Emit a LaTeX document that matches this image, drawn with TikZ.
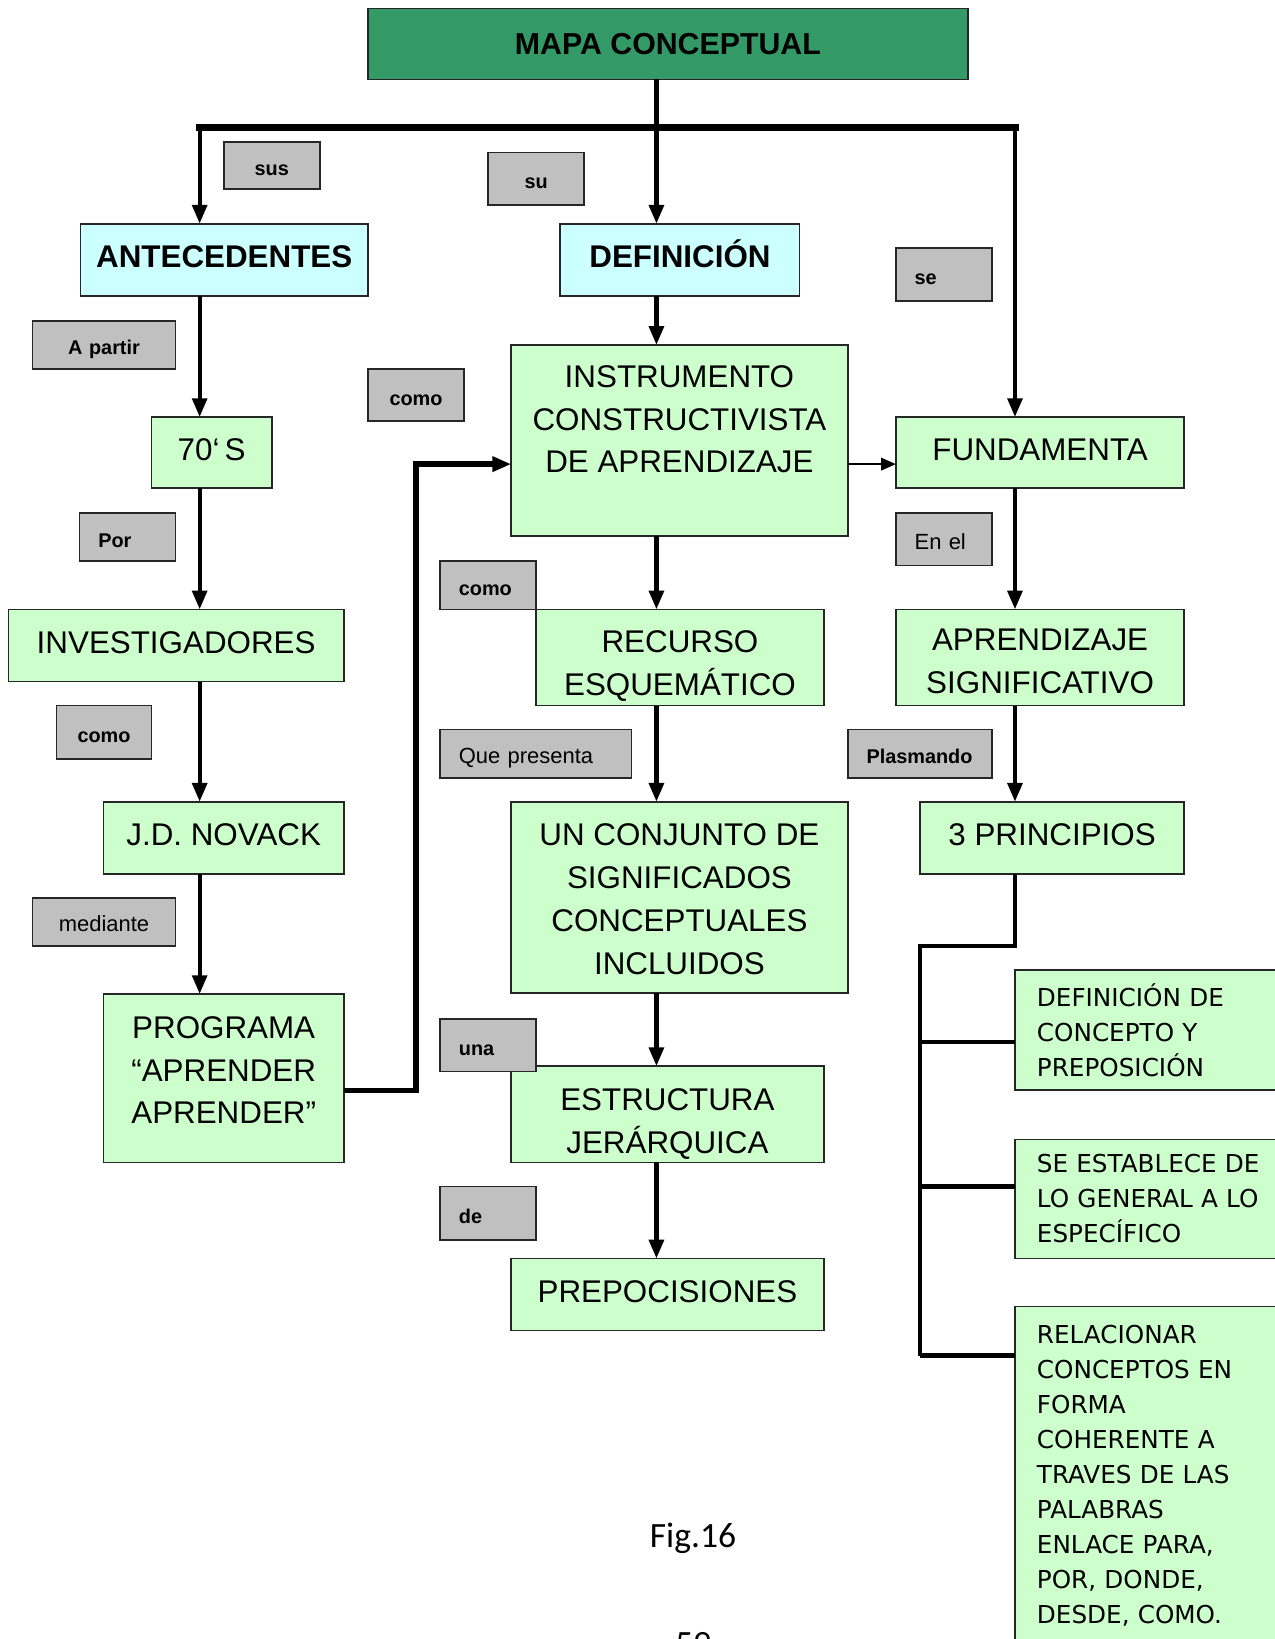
\documentclass[tikz,border=0pt]{standalone}
\usepackage{fontspec}
\setmainfont{Liberation Sans}
\newfontfamily\rfont{DejaVu Sans}
\newfontfamily\capfont{Carlito}
\usetikzlibrary{arrows.meta}
\definecolor{titlegreen}{HTML}{339966}
\definecolor{boxgreen}{HTML}{CCFFCC}
\definecolor{boxcyan}{HTML}{CCFFFF}
\definecolor{lgray}{HTML}{C0C0C0}
\newcommand{\mlines}[2]{\raisebox{#1}[\height][\depth]{\begin{tabular}{@{}c@{}}#2\end{tabular}}}
\begin{document}
\begin{tikzpicture}[x=0.5pt,y=-0.5pt,
  box/.style={draw=black!85, line width=0.8pt, fill=boxgreen, inner sep=0pt, outer sep=0pt, align=center, font=\fontsize{15}{20.5}\selectfont},
  oneline/.style={text height=10.7pt, text depth=3.4pt},
  cbox/.style={box, fill=boxcyan, font=\fontsize{15}{20.5}\selectfont\bfseries},
  tbox/.style={box, fill=titlegreen, font=\fontsize{14.5}{18}\selectfont\bfseries},
  pbox/.style={draw=black!85, line width=0.8pt, fill=boxgreen, inner xsep=10.5pt, inner ysep=0pt, outer sep=0pt, align=left, text width=113pt, font=\rfont\fontsize{11.8}{16.75}\selectfont, anchor=west},
  lbl/.style={draw=black!85, line width=0.8pt, fill=lgray, inner xsep=9pt, inner ysep=0pt, outer sep=0pt, align=left, text height=11pt, text depth=1.4pt, font=\fontsize{9.5}{11}\selectfont\bfseries},
  lbln/.style={lbl, font=\fontsize{10.5}{12}\selectfont},
  conn/.style={line width=2pt, -{Triangle[length=9pt,width=7pt]}},
  thinarrow/.style={line width=0.8pt, -{Triangle[length=7pt,width=6pt]}},
  busline/.style={line width=3.5pt, line cap=rect},
  barline/.style={line width=2.2pt},
]
\useasboundingbox (0,0) rectangle (1219,1568);

% concept boxes
\node[tbox, minimum width=287pt, minimum height=34pt] (title) at (639,42) {MAPA CONCEPTUAL};
\node[cbox, oneline, minimum width=137.5pt, minimum height=34.5pt] (ante) at (214.5,248.5) {ANTECEDENTES};
\node[cbox, oneline, minimum width=114.5pt, minimum height=34.5pt] (def) at (650.5,248.5) {DEFINICIÓN};
\node[box, oneline, minimum width=57.5pt, minimum height=34pt] (s70) at (202.5,433) {70`\,S};
\node[box, minimum width=161pt, minimum height=91.5pt] (instr) at (650,421.5) {INSTRUMENTO\\CONSTRUCTIVISTA\\DE APRENDIZAJE\\ \mbox{}};
\node[box, oneline, minimum width=138pt, minimum height=34pt] (fund) at (995,433) {FUNDAMENTA};
\node[box, oneline, minimum width=160.5pt, minimum height=34.5pt] (inv) at (168.5,617.5) {INVESTIGADORES};
\node[box, minimum width=137.5pt, minimum height=46pt] (rec) at (650.5,629) {\mlines{-3.75pt}{RECURSO\\ESQUEMÁTICO}};
\node[box, minimum width=138pt, minimum height=46pt] (apr) at (995,629) {\mlines{-3pt}{APRENDIZAJE\\SIGNIFICATIVO}};
\node[box, oneline, minimum width=115pt, minimum height=34.5pt] (nov) at (214,801.5) {J.D. NOVACK};
\node[box, minimum width=161pt, minimum height=91.5pt] (conj) at (650,858.5) {\mlines{-2pt}{UN CONJUNTO DE\\SIGNIFICADOS\\CONCEPTUALES\\INCLUIDOS}};
\node[box, oneline, minimum width=126.5pt, minimum height=34.5pt] (tres) at (1006.5,801.5) {3 PRINCIPIOS};
\node[box, minimum width=115pt, minimum height=80.5pt] (prog) at (214,1031.5) {\mlines{2.75pt}{PROGRAMA\\“APRENDER\\APRENDER”}};
\node[box, minimum width=149.5pt, minimum height=46pt] (est) at (638.5,1066) {\mlines{-4.25pt}{ESTRUCTURA\\JERÁRQUICA}};
\node[box, oneline, minimum width=149.5pt, minimum height=34.5pt] (prep) at (638.5,1238.5) {PREPOCISIONES};
\node[pbox, minimum height=57.5pt] (p1) at (971,985.5) {DEFINICIÓN DE\\CONCEPTO Y\\PREPOSICIÓN};
\node[pbox, minimum height=57pt] (p2) at (971,1147) {SE ESTABLECE DE\\LO GENERAL A LO\\ESPECÍFICO};
\node[pbox, minimum height=162pt] (p3) at (971,1412) {RELACIONAR\\CONCEPTOS EN\\FORMA\\COHERENTE A\\TRAVES DE LAS\\PALABRAS\\ENLACE PARA,\\POR, DONDE,\\DESDE, COMO.};

% helper coordinates
\coordinate (hub) at (628,122);
\coordinate (busL) at (191,122);
\coordinate (busR) at (971,122);
\coordinate (colL) at (191,0);
\coordinate (colC) at (628,0);
\coordinate (colR) at (971,0);
\coordinate (mid) at (0,444);
\coordinate (pj) at (398,1043);
\coordinate (pk) at (398,444);
\coordinate (bt) at (971,905);
\coordinate (bl) at (880,905);
\coordinate (b1) at (880,997);
\coordinate (b2) at (880,1135);
\coordinate (b3) at (880,1297);

% connectors
\draw[line width=2pt] (title.south -| hub) -- (hub);
\draw[busline] (busL) -- (busR);
\draw[conn] (busL) -- (ante.north -| busL);
\draw[conn] (hub) -- (def.north -| hub);
\draw[conn] (busR) -- (fund.north -| busR);
\draw[conn] (ante.south -| colL) -- (s70.north -| colL);
\draw[conn] (s70.south -| colL) -- (inv.north -| colL);
\draw[conn] (inv.south -| colL) -- (nov.north -| colL);
\draw[conn] (nov.south -| colL) -- (prog.north -| colL);
\draw[conn] (def.south -| colC) -- (instr.north -| colC);
\draw[conn] (instr.south -| colC) -- (rec.north -| colC);
\draw[conn] (rec.south -| colC) -- (conj.north -| colC);
\draw[conn] (conj.south -| colC) -- (est.north -| colC);
\draw[conn] (est.south -| colC) -- (prep.north -| colC);
\draw[conn] (fund.south -| colR) -- (apr.north -| colR);
\draw[conn] (apr.south -| colR) -- (tres.north -| colR);
\draw[thinarrow] (instr.east |- mid) -- (fund.west |- mid);
\draw[conn, line width=2.5pt] (prog.east |- pj) -- (pj) -- (pk) -- (instr.west |- pk);
\draw[barline] (tres.south -| colR) -- (bt) -- (bl) -- (b3);
\draw[barline] (b1) -- (p1.west |- b1);
\draw[barline] (b2) -- (p2.west |- b2);
\draw[barline] (b3) -- (p3.west |- b3);

% linking words
\node[lbl, align=center, text width=28pt, minimum height=22.5pt] (lsus) at (260,158.5) {sus};
\node[lbl, align=center, text width=28pt, minimum height=25pt] (lsu) at (513,171) {su};
\node[lbl, text width=28pt, minimum height=25.5pt] (lse) at (903,262.5) {se};
\node[lbl, align=center, text width=50.5pt, minimum height=23pt] (lapartir) at (99.5,330) {A partir};
\node[lbl, align=center, text width=28pt, minimum height=25pt] (lcomoa) at (398,378) {como};
\node[lbl, text width=28pt, minimum height=23pt] (lpor) at (122,514) {Por};
\node[lbln, text width=28pt, minimum height=25pt] (lenel) at (903,516) {En el};
\node[lbl, text width=28pt, minimum height=23pt] (lcomob) at (467,560) {como};
\node[lbl, align=center, text width=27.5pt, minimum height=25.5pt] (lcomoc) at (99.5,700.5) {como};
\node[lbln, text width=73.5pt, minimum height=23pt] (lque) at (512.5,721) {Que presenta};
\node[lbl, text width=51pt, minimum height=23pt] (lplas) at (880,721) {Plasmando};
\node[lbln, align=center, text width=50.5pt, minimum height=23pt] (lmed) at (99.5,882) {mediante};
\node[lbl, text width=28pt, minimum height=25pt] (luna) at (467,1000) {una};
\node[lbl, text width=28pt, minimum height=25.5pt] (lde) at (467,1160.5) {de};

% caption and page number
\node[font=\capfont\fontsize{17}{20}\selectfont, inner sep=0pt] (fig) at (663,1472) {Fig.16};
\node[font=\capfont\fontsize{17}{20}\selectfont, inner sep=0pt, anchor=north] (pg) at (663,1561) {59};
\end{tikzpicture}
\end{document}
